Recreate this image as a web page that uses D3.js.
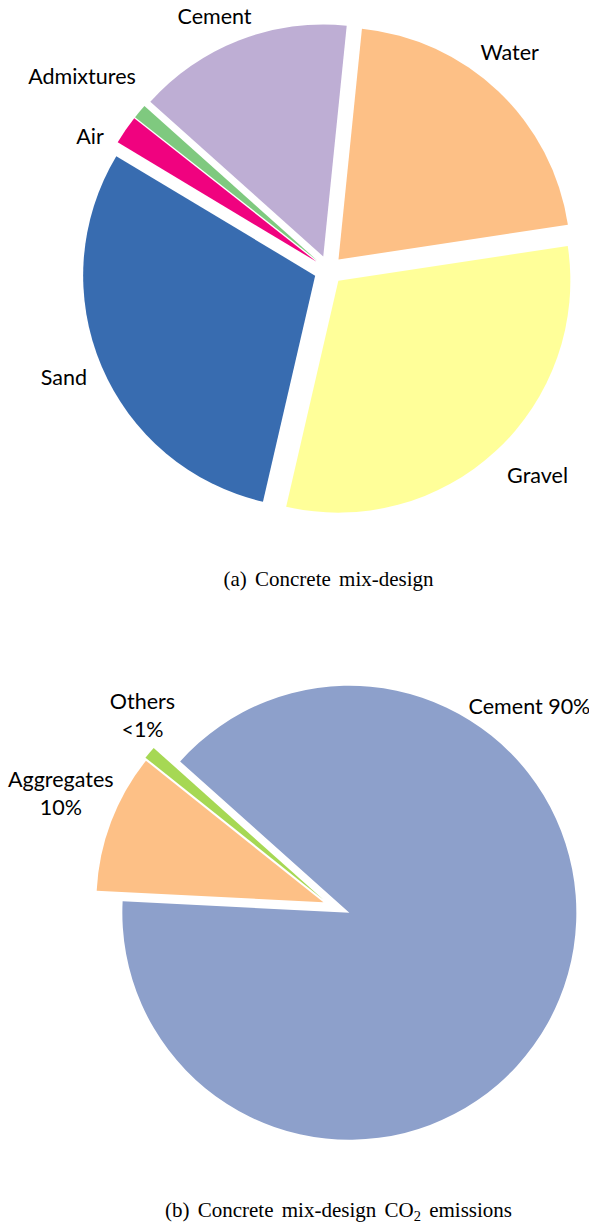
<!DOCTYPE html>
<html>
<head>
<meta charset="utf-8">
<script src="https://cdn.jsdelivr.net/npm/d3@7"></script>
<style>
  html, body { margin: 0; padding: 0; background: #fff; }
  svg { display: block; }
  .slice-label { font-family: Lato, "Open Sans", sans-serif; font-size: 21.5px; fill: #000; }
  .caption { font-family: "Liberation Serif", "Times New Roman", serif; font-size: 21px; fill: #000; word-spacing: 3px; }
</style>
</head>
<body>
<svg id="fig" width="589" height="1224"></svg>
<script>
// (a) Concrete mix-design, share of each constituent (%)
const mixCategories = ["Water", "Gravel", "Sand", "Air", "Admixtures", "Cement"];
const mixValues = [21, 31, 30, 2, 1, 15];
const mixColors = ["#FDC086", "#FFFF99", "#386CB0", "#F0027F", "#7FC97F", "#BEAED4"];

// (b) CO2 emissions of the mix-design by constituent (%)
const co2Categories = ["Cement", "Aggregates", "Others"];
const co2Values = [90, 10, 0.9];
const co2LabelLines = [["Cement 90%"], ["Aggregates", "10%"], ["Others", "<1%"]];
const co2Colors = ["#8DA0CB", "#FDC086", "#A6D854"];

const deg = Math.PI / 180;
const svg = d3.select("#fig");

// Draws one exploded pie. explode[i] pushes slice i out along its bisector;
// labels sit on the bisector at labelRadius, then get a small nudge.
function drawPie(opts) {
  const { cx, cy, radius, startDeg, values, colors, labels, explode, labelRadius, nudges } = opts;
  const pie = d3.pie().sort(null).value(d => d)
    .startAngle(startDeg * deg).endAngle(startDeg * deg + 2 * Math.PI);
  const arcs = pie(values);
  const arc = d3.arc().innerRadius(0).outerRadius(radius);
  const labelArc = d3.arc().innerRadius(labelRadius).outerRadius(labelRadius);

  const g = svg.append("g").attr("transform", `translate(${cx},${cy})`);

  g.selectAll("path.slice")
    .data(arcs)
    .join("path")
    .attr("class", "slice")
    .attr("fill", (d, i) => colors[i])
    .attr("d", arc)
    .attr("transform", (d, i) => {
      const mid = (d.startAngle + d.endAngle) / 2;
      const e = explode[i];
      return `translate(${e * Math.sin(mid)},${-e * Math.cos(mid)})`;
    });

  const lineHeight = 28;
  g.selectAll("text.slice-label")
    .data(arcs)
    .join("text")
    .attr("class", "slice-label")
    .attr("text-anchor", "middle")
    .attr("transform", (d, i) => {
      const [x, y] = labelArc.centroid(d);
      const [dx, dy] = nudges[i];
      return `translate(${x + dx},${y + dy})`;
    })
    .each(function (d, i) {
      const lines = labels[i];
      const t = d3.select(this);
      const y0 = -((lines.length - 1) * lineHeight) / 2;
      lines.forEach((line, k) => {
        t.append("tspan")
          .attr("x", 0)
          .attr("y", y0 + k * lineHeight)
          .attr("dy", "0.35em")
          .text(line);
      });
    });
}

drawPie({
  cx: 328.5, cy: 270, radius: 232, startDeg: 5.8,
  values: mixValues, colors: mixColors,
  labels: mixCategories.map(c => [c]),
  explode: mixValues.map(() => 14.5),
  labelRadius: 285,
  nudges: [[-15.3, -11.3], [15.4, -3.3], [-2.2, -3.5], [-3.9, 27.9], [-28.2, -10], [-10.9, 12.5]]
});

drawPie({
  cx: 329, cy: 904.4, radius: 227, startDeg: 311.8,
  values: co2Values, colors: co2Colors,
  labels: co2LabelLines,
  explode: [22, 6, 8],
  labelRadius: 285,
  nudges: [[-63.1, -306], [-1.7, -9.6], [31.2, -4.6]]
});

// Sub-figure captions
svg.append("text")
  .attr("class", "caption")
  .attr("x", 328.5).attr("y", 586)
  .attr("text-anchor", "middle")
  .text("(a) Concrete mix-design");

const capB = svg.append("text")
  .attr("class", "caption")
  .attr("x", 338.5).attr("y", 1217)
  .attr("text-anchor", "middle");
capB.append("tspan").text("(b) Concrete mix-design CO");
capB.append("tspan").attr("font-size", "14.5px").attr("dy", 4).text("2");
capB.append("tspan").attr("dy", -4).text(" emissions");
</script>
</body>
</html>
